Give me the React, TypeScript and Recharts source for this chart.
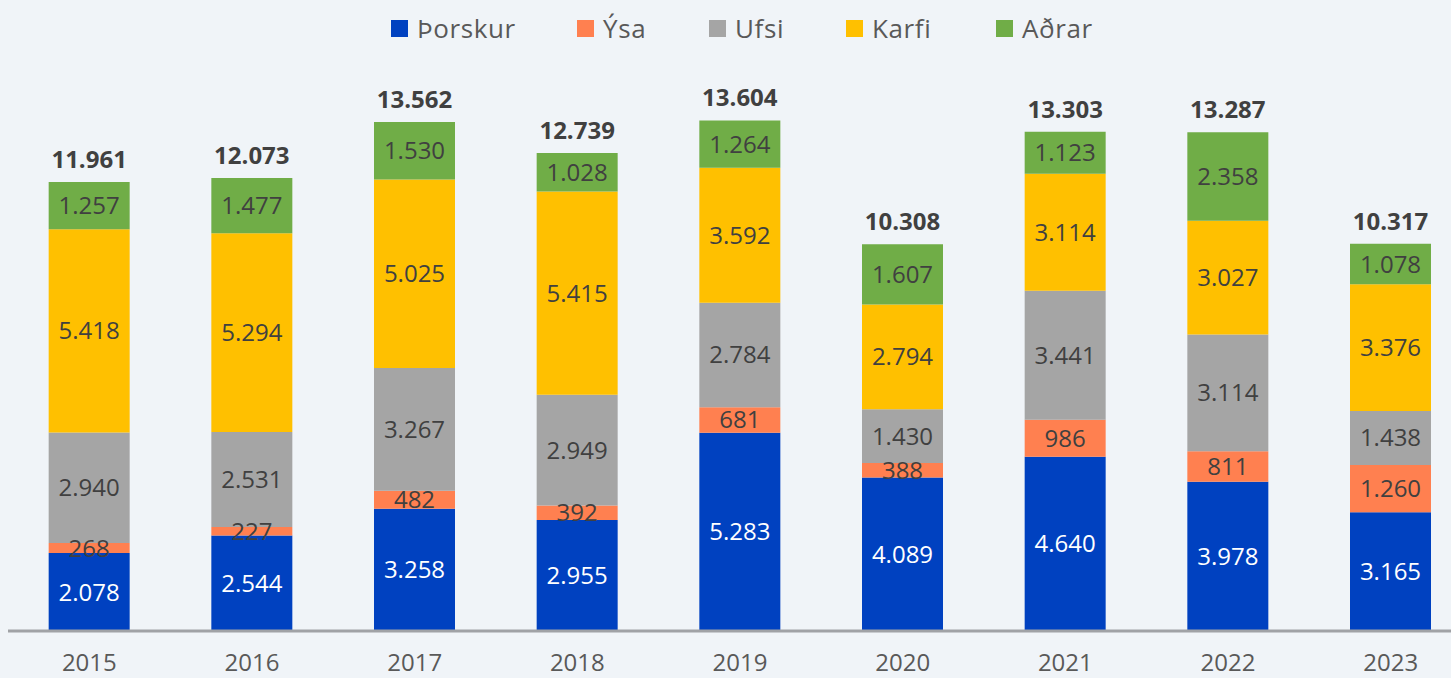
import React from 'react';
import { BarChart, Bar, XAxis, YAxis, LabelList } from 'recharts';

const years = ['2015', '2016', '2017', '2018', '2019', '2020', '2021', '2022', '2023'];
const thorskur = [2078, 2544, 3258, 2955, 5283, 4089, 4640, 3978, 3165];
const ysa = [268, 227, 482, 392, 681, 388, 986, 811, 1260];
const ufsi = [2940, 2531, 3267, 2949, 2784, 1430, 3441, 3114, 1438];
const karfi = [5418, 5294, 5025, 5415, 3592, 2794, 3114, 3027, 3376];
const adrar = [1257, 1477, 1530, 1028, 1264, 1607, 1123, 2358, 1078];
const totals = [11961, 12073, 13562, 12739, 13604, 10308, 13303, 13287, 10317];

const SERIES = [
    { key: 'thorskur', name: 'Þorskur', color: '#0041c0', text: '#ffffff', legendX: 391 },
    { key: 'ysa', name: 'Ýsa', color: '#ff8050', text: '#404040', legendX: 577 },
    { key: 'ufsi', name: 'Ufsi', color: '#a5a5a5', text: '#404040', legendX: 709 },
    { key: 'karfi', name: 'Karfi', color: '#ffc000', text: '#404040', legendX: 846 },
    { key: 'adrar', name: 'Aðrar', color: '#70ad47', text: '#404040', legendX: 996 },
];

const data = years.map((year, i) => ({
    year,
    thorskur: thorskur[i],
    ysa: ysa[i],
    ufsi: ufsi[i],
    karfi: karfi[i],
    adrar: adrar[i],
    total: totals[i],
}));

const FONT = '"Open Sans", Lato, sans-serif';

// 12345 -> "12.345"
const fmt = (v: any) => String(v).replace(/\B(?=(\d{3})+(?!\d))/g, '.');

export default function App() {
    return (
        <div
            style={{
                position: 'absolute',
                left: 0,
                top: 0,
                width: 1451,
                height: 678,
                overflow: 'hidden',
                background: '#f0f4f8',
                fontFamily: FONT,
            }}
        >
            {SERIES.map(s => (
                <div
                    key={s.key}
                    style={{
                        position: 'absolute',
                        top: 10,
                        left: s.legendX,
                        display: 'flex',
                        alignItems: 'center',
                        fontSize: 26,
                        letterSpacing: 0.6,
                        color: '#595959',
                        height: 36,
                    }}
                >
                    <span style={{ width: 17, height: 17, background: s.color, marginRight: 9, display: 'inline-block' }} />
                    <span>{s.name}</span>
                </div>
            ))}
            <BarChart
                width={1472}
                height={678}
                data={data}
                margin={{ top: 30.5, right: 0, left: 8, bottom: 0 }}
                barCategoryGap="25%"
            >
                <XAxis
                    dataKey="year"
                    height={47}
                    tickLine={false}
                    tickSize={0}
                    tickMargin={23}
                    axisLine={{ stroke: '#a0a2a6', strokeWidth: 3 }}
                    tick={{ fill: '#595959', fontSize: 24, fontFamily: FONT }}
                />
                <YAxis hide domain={[0, 16000]} />
                {SERIES.map(s => (
                    <Bar key={s.key} dataKey={s.key} name={s.name} stackId="a" fill={s.color} isAnimationActive={false}>
                        <LabelList
                            dataKey={s.key}
                            position="center"
                            formatter={fmt}
                            fill={s.text}
                            fontSize={24}
                            fontFamily={FONT}
                        />
                        {s.key === 'adrar' && (
                            <LabelList
                                dataKey="total"
                                position="top"
                                offset={14}
                                formatter={fmt}
                                fill="#404040"
                                fontSize={24}
                                fontWeight="bold"
                                fontFamily={FONT}
                            />
                        )}
                    </Bar>
                ))}
            </BarChart>
        </div>
    );
}
